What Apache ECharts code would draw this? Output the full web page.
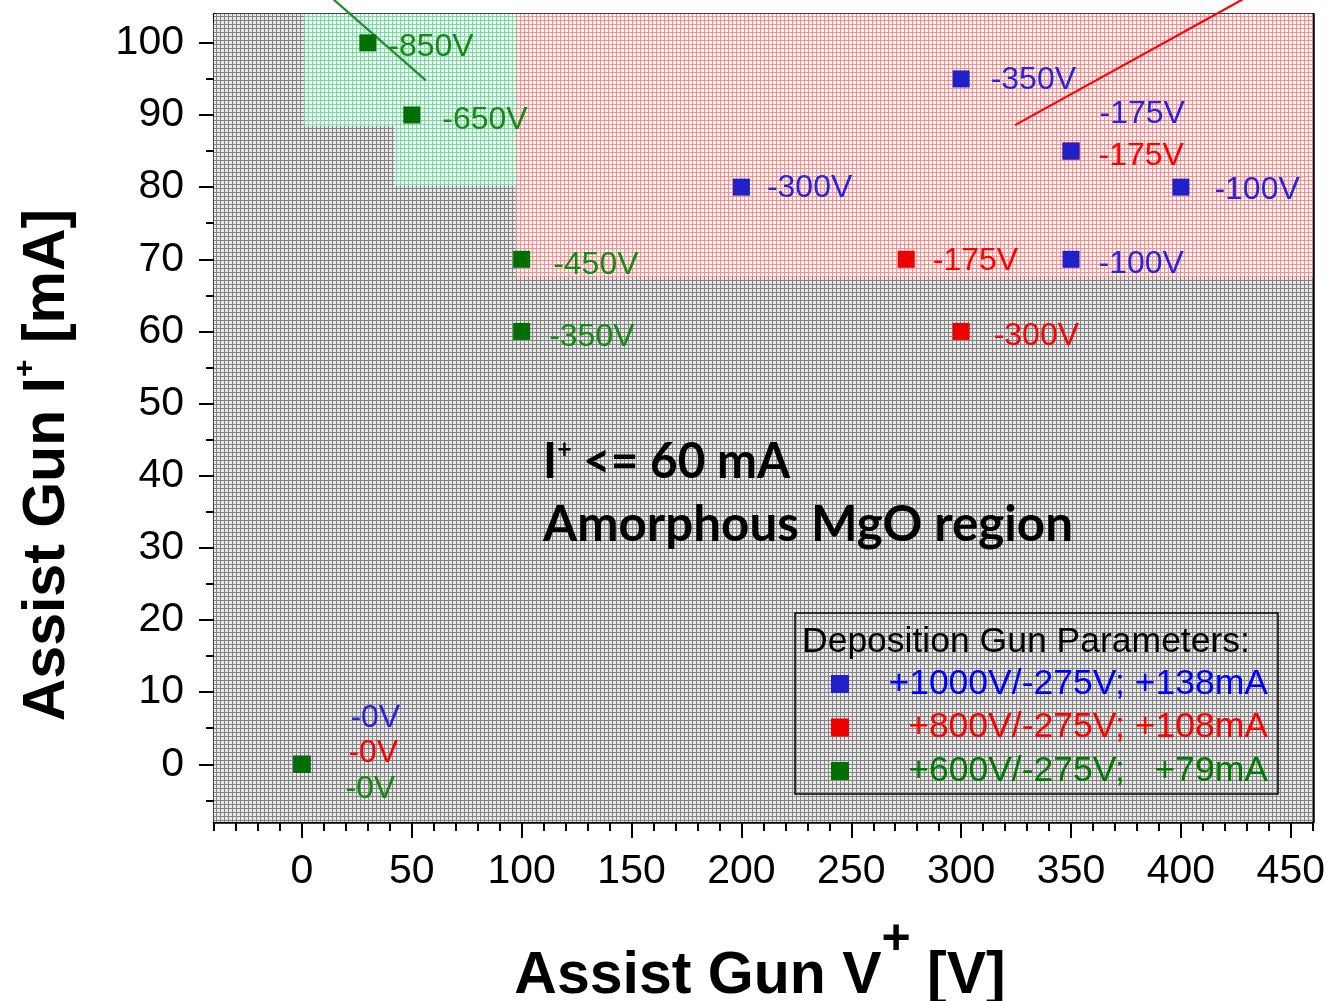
<!DOCTYPE html>
<html><head><meta charset="utf-8">
<script src="https://cdn.jsdelivr.net/npm/echarts@6/dist/echarts.min.js"></script>
<style>html,body{margin:0;padding:0;background:#fff}#c{width:1328px;height:1001px}</style>
</head><body><div id="c"></div>
<script>
// ---------- data ----------
const xTicks = [0, 50, 100, 150, 200, 250, 300, 350, 400, 450];
const xMinor = [-40, -30, -20, -10, 0, 10, 20, 30, 40, 50, 60, 70, 80, 90, 100, 110, 120, 130, 140, 150, 160, 170, 180, 190, 200, 210, 220, 230, 240, 250, 260, 270, 280, 290, 300, 310, 320, 330, 340, 350, 360, 370, 380, 390, 400, 410, 420, 430, 440, 450, 460];
const yTicks = [0, 10, 20, 30, 40, 50, 60, 70, 80, 90, 100];
const yMinor = [-5, 5, 15, 25, 35, 45, 55, 65, 75, 85, 95];

const legendNames = ['+1000V/-275V; +138mA', '+800V/-275V; +108mA', '+600V/-275V;   +79mA'];

const blueData = [[0, 0], [200, 80], [300, 95], [350, 85], [350, 70], [400, 80]];
const blueLabels = ['-0V', '-300V', '-350V', '-175V', '-100V', '-100V'];
const redData = [[0, 0], [275, 70], [300, 60], [350, 85]];
const redLabels = ['-0V', '-175V', '-300V', '-175V'];
const greenData = [[0, 0], [30, 100], [50, 90], [100, 70], [100, 60]];
const greenLabels = ['-0V', '-850V', '-650V', '-450V', '-350V'];

// regions: [x0, y0, x1, y1]
const grayRegion = [[-40, -8, 460, 104]];
const greenRegion = [[1, 88.5, 97.5, 104], [42, 80.2, 97.5, 88.5]];
const redRegion = [[97.5, 67.5, 460, 104]];

const greenLine = [[14.5, 106], [56.4, 94.8]];
const redLine = [[324.5, 88.6], [428, 106]];

// ---------- label layout (pixel shifts, style only) ----------
const blueShift = [[29, -46], [6, 1], [10, 1], [9, -37], [8, 5], [14, 3]];
const redShift = [[27, -11], [7, 2], [13, 5], [8, 5]];
const greenShift = [[24, 25], [1, 4], [11, 5], [12, 6], [8, 6]];

const FA = '"Liberation Sans", Arial, sans-serif';

function pattern(bg, fg, n) {
  const c = document.createElement('canvas');
  c.width = n; c.height = n;
  const g = c.getContext('2d');
  g.fillStyle = bg; g.fillRect(0, 0, n, n);
  g.fillStyle = fg; g.fillRect(0, 0, n, 1); g.fillRect(0, 0, 1, n);
  return { image: c, repeat: 'repeat' };
}
const grayFill = pattern('#e8e8e8', '#858585', 4);
const greenFill = pattern('#f0fff6', '#80d8a8', 4);
const redFill = pattern('#fff6f6', '#f59090', 4);

function regionSeries(rects, fill) {
  return {
    type: 'custom', xAxisIndex: 0, yAxisIndex: 0, silent: true, z: 1,
    data: rects,
    renderItem: function (params, api) {
      const p0 = api.coord([api.value(0), api.value(3)]);
      const p1 = api.coord([api.value(2), api.value(1)]);
      return { type: 'rect', shape: { x: p0[0], y: p0[1], width: p1[0] - p0[0], height: p1[1] - p0[1] }, style: { fill: fill } };
    }
  };
}

function pts(data, labels, shift) {
  return data.map((d, i) => ({ value: d, label: { formatter: labels[i], offset: shift[i] } }));
}

function scatter(name, data, labels, shift, color, labelColor) {
  return {
    type: 'scatter', name: name, xAxisIndex: 0, yAxisIndex: 0, z: 5,
    symbol: 'rect', symbolSize: 17,
    itemStyle: { color: color, opacity: 1 },
    label: { show: true, position: 'right', distance: 11, color: labelColor, fontSize: 32, fontFamily: FA },
    data: pts(data, labels, shift)
  };
}

function lineSeries(data, color) {
  return {
    type: 'line', xAxisIndex: 0, yAxisIndex: 0, z: 4, clip: false, symbol: 'none',
    lineStyle: { color: color, width: 2.2 }, data: data, silent: true
  };
}

function xAx(pos, ticks, len, inside, showLine, labels) {
  return {
    type: 'value', min: -40, max: 460, position: pos,
    axisLine: { show: showLine, onZero: false, lineStyle: { color: '#000', width: 2.5 } },
    axisTick: { show: true, inside: inside, length: len, customValues: ticks, lineStyle: { color: '#000', width: 2 } },
    axisLabel: labels ? { show: true, customValues: xTicks, fontSize: 41, color: '#000', fontFamily: FA, margin: 29 } : { show: false },
    splitLine: { show: false }
  };
}
function yAx(pos, ticks, len, inside, showLine, labels) {
  return {
    type: 'value', min: -8, max: 104, position: pos,
    axisLine: { show: showLine, onZero: false, lineStyle: { color: '#000', width: 2.5 } },
    axisTick: { show: true, inside: inside, length: len, customValues: ticks, lineStyle: { color: '#000', width: 2 } },
    axisLabel: labels ? { show: true, customValues: yTicks, fontSize: 41, color: '#000', fontFamily: FA, margin: 30 } : { show: false },
    splitLine: { show: false }
  };
}

// ---------- text helpers ----------
const mctx = document.createElement('canvas').getContext('2d');
function tw(text, font) { mctx.font = font; return mctx.measureText(text).width; }

const graphics = [];

// Annotation
const annFont = 'bold 50px Lato';
const supFont = 'bold 26px Lato';
const annScale = 530 / tw('Amorphous MgO region', annFont);
(function () {
  const x0 = 543;
  graphics.push({ type: 'text', x: x0, y: 525, scaleX: annScale, z: 100, style: { text: 'Amorphous MgO region', font: annFont, fill: '#000', align: 'left', verticalAlign: 'middle' } });
  const raw = tw('I', annFont) + tw('+', supFont) + tw(' <= 60 mA', annFont);
  const s1 = 247 / raw;
  const wI = tw('I', annFont) * s1;
  const wP = tw('+', supFont) * s1;
  graphics.push({ type: 'text', x: x0, y: 462, scaleX: s1, z: 100, style: { text: 'I', font: annFont, fill: '#000', align: 'left', verticalAlign: 'middle' } });
  graphics.push({ type: 'text', x: x0 + wI, y: 450, scaleX: s1, z: 100, style: { text: '+', font: supFont, fill: '#000', align: 'left', verticalAlign: 'middle' } });
  graphics.push({ type: 'text', x: x0 + wI + wP, y: 462, scaleX: s1, z: 100, style: { text: ' <= 60 mA', font: annFont, fill: '#000', align: 'left', verticalAlign: 'middle' } });
})();

// Axis titles
const tFont = 'bold 59px ' + FA;
const sFont = 'bold 50px ' + FA;
const ysFont = 'bold 30px ' + FA;
(function () {
  // x title
  const a = 'Assist Gun V', b = '+', c = ' [V]';
  const wa = tw(a, tFont), wb = tw(b, sFont), wc = tw(c, tFont);
  let x = 760 - (wa + wb + wc) / 2;
  graphics.push({ type: 'text', x: x, y: 977, z: 100, style: { text: a, font: tFont, fill: '#000', align: 'left', verticalAlign: 'middle' } });
  graphics.push({ type: 'text', x: x + wa, y: 940, z: 100, style: { text: b, font: sFont, fill: '#000', align: 'left', verticalAlign: 'middle' } });
  graphics.push({ type: 'text', x: x + wa + wb, y: 977, z: 100, style: { text: c, font: tFont, fill: '#000', align: 'left', verticalAlign: 'middle' } });
  // y title (rotated)
  const ya = 'Assist Gun I', yb = '+', yc = ' [mA]';
  const w1 = tw(ya, tFont), w2 = tw(yb, ysFont), w3 = tw(yc, tFont);
  let y = 465 + (w1 + w2 + w3) / 2;
  const rot = Math.PI / 2;
  graphics.push({ type: 'text', x: 48, y: y, rotation: rot, z: 100, style: { text: ya, font: tFont, fill: '#000', align: 'left', verticalAlign: 'middle' } });
  graphics.push({ type: 'text', x: 26, y: y - w1, rotation: rot, z: 100, style: { text: yb, font: ysFont, fill: '#000', align: 'left', verticalAlign: 'middle' } });
  graphics.push({ type: 'text', x: 48, y: y - w1 - w2, rotation: rot, z: 100, style: { text: yc, font: tFont, fill: '#000', align: 'left', verticalAlign: 'middle' } });
})();

// Legend box and title
graphics.push({ type: 'rect', z: 90, shape: { x: 795, y: 613, width: 483, height: 181 }, style: { fill: 'none', stroke: '#000', lineWidth: 1.5 } });
graphics.push({ type: 'text', x: 802, y: 642, z: 100, style: { text: 'Deposition Gun Parameters:', font: '35.5px ' + FA, fill: '#000', align: 'left', verticalAlign: 'middle' } });

const richKey = {};
richKey[legendNames[0]] = 'b'; richKey[legendNames[1]] = 'r'; richKey[legendNames[2]] = 'g';
const legRich = function (color) { return { color: color, fontSize: 35.5, fontFamily: FA, width: 414, align: 'right', lineHeight: 36 }; };

const option = {
  animation: false,
  backgroundColor: '#fff',
  grid: { left: 214, right: 15, top: 14, bottom: 179, containLabel: false },
  xAxis: [
    xAx('bottom', xTicks, 16, false, true, true),
    xAx('bottom', xMinor, 9, false, false, false),
    xAx('top', xTicks, 16, true, true, false),
    xAx('top', xMinor, 9, true, false, false)
  ],
  yAxis: [
    yAx('left', yTicks, 15, false, true, true),
    yAx('left', yMinor, 8, false, false, false),
    yAx('right', yTicks, 15, true, true, false),
    yAx('right', yMinor, 8, true, false, false)
  ],
  legend: {
    data: legendNames, orient: 'vertical', left: 831, top: 666, padding: 0,
    itemWidth: 18, itemHeight: 18, itemGap: 7.5, icon: 'rect', selectedMode: false,
    formatter: function (name) { return '{' + richKey[name] + '|' + name + '}'; },
    textStyle: { rich: { b: legRich('#0000ff'), r: legRich('#ff0000'), g: legRich('#007a00') } }
  },
  graphic: graphics,
  series: [
    regionSeries(grayRegion, grayFill),
    regionSeries(greenRegion, greenFill),
    regionSeries(redRegion, redFill),
    lineSeries(greenLine, '#1f8f2f'),
    lineSeries(redLine, '#ff0000'),
    scatter(legendNames[1], redData, redLabels, redShift, '#ee0000', '#ff0000'),
    scatter(legendNames[0], blueData, blueLabels, blueShift, '#2020c8', '#2a22dd'),
    scatter(legendNames[2], greenData, greenLabels, greenShift, '#007000', '#158a15')
  ]
};
const chart = echarts.init(document.getElementById('c'));
chart.setOption(option);
</script></body></html>
